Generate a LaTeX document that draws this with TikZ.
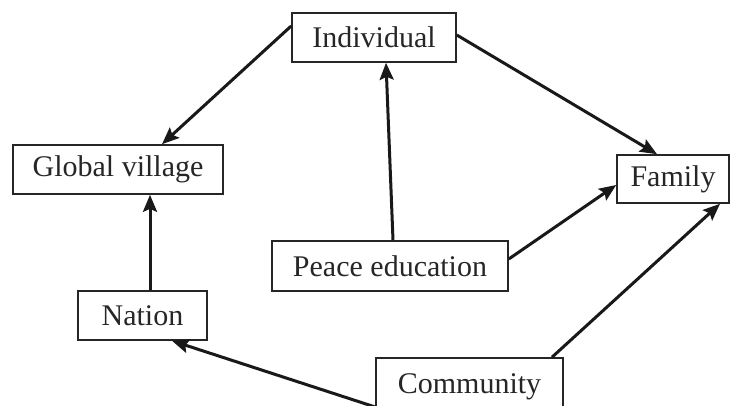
\documentclass[tikz,border=0pt]{standalone}
\usepackage{fontspec}
\setmainfont{Liberation Serif}
\usetikzlibrary{arrows.meta}
\begin{document}
\begin{tikzpicture}[x=1pt,y=-1pt,
  box/.style={draw=black!85,line width=1.6pt,inner sep=0pt,
    font=\fontsize{30}{34}\selectfont,text=black!85},
  arr/.style={draw=black!90,line width=3pt,
    -{Stealth[length=17pt,width=14pt,inset=3pt]}}]
\useasboundingbox (0,0) rectangle (730,406);
\node[box,minimum width=164pt,minimum height=49pt] (ind) at (374,37.5) {Individual};
\node[box,minimum width=210pt,minimum height=49pt] (gv) at (118,169.5) {Global village};
\node[box,minimum width=112pt,minimum height=48pt] (fam) at (673,179) {Family};
\node[box,minimum width=236pt,minimum height=50pt] (pe) at (390,266) {Peace education};
\node[box,minimum width=129pt,minimum height=49pt] (nat) at (142.5,315.5) {Nation};
\node[box,minimum width=187pt,minimum height=58pt] (com) at (469.5,387) {Community};
\draw[arr] ([yshift=11.5pt]ind.west) -- ([xshift=44pt]gv.north);
\draw[arr] ([yshift=2.5pt]ind.east) -- ([xshift=-16pt]fam.north);
\draw[arr] ([xshift=3pt]pe.north) -- ([xshift=12pt]ind.south);
\draw[arr] ([yshift=7pt]pe.east) -- ([yshift=-6pt]fam.west);
\draw[arr] ([xshift=7.5pt]nat.north) -- ([xshift=32pt]gv.south);
\draw[arr] ([yshift=-20pt]com.west) -- ([xshift=29.5pt]nat.south);
\draw[arr] ([xshift=82.5pt]com.north) -- ([xshift=47pt]fam.south);
\end{tikzpicture}
\end{document}
